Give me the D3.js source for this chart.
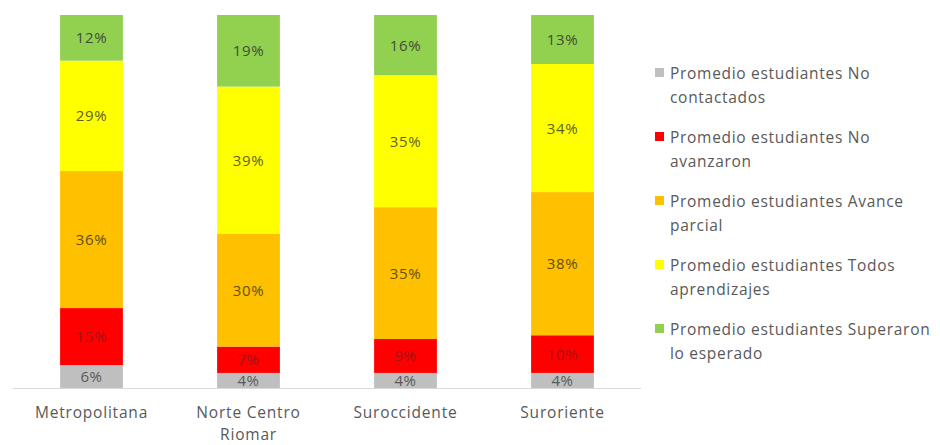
<!DOCTYPE html>
<html>
<head>
<meta charset="utf-8">
<script src="https://cdn.jsdelivr.net/npm/d3@7"></script>
<style>
  body { margin: 0; background: #fff; }
  text { font-family: "Open Sans", sans-serif; }
</style>
</head>
<body>
<div class="svg"></div>
<script>
const regiones = ["Metropolitana", "Norte Centro Riomar", "Suroccidente", "Suroriente"];
const series = [
  "Promedio estudiantes No contactados",
  "Promedio estudiantes No avanzaron",
  "Promedio estudiantes Avance parcial",
  "Promedio estudiantes Todos aprendizajes",
  "Promedio estudiantes Superaron lo esperado"
];
const noContactados = [6, 4, 4, 4];
const noAvanzaron = [15, 7, 9, 10];
const avanceParcial = [36, 30, 35, 38];
const todosAprendizajes = [29, 39, 35, 34];
const superaron = [12, 19, 16, 13];
const colores = ["#bfbfbf", "#ff0000", "#ffc000", "#ffff00", "#92d050"];
const colorTexto = ["#595959", "#a01515", "#5f4f10", "#5f5f25", "#3f4f35"];

const w = 940;
const h = 445;
const plot = {left: 13, right: 641, top: 15, bottom: 388};

let valores = [noContactados, noAvanzaron, avanceParcial, todosAprendizajes, superaron];
let data = regiones.map((r, i) => {
  let o = {region: r};
  series.forEach((s, j) => o[s] = valores[j][i]);
  return o;
});

let svg = d3.select(".svg").append("svg")
  .attr("width", w)
  .attr("height", h);

let x = d3.scaleBand()
  .domain(regiones)
  .range([plot.left, plot.right])
  .paddingInner(0.6)
  .paddingOuter(0.3);

let y = d3.scaleLinear()
  .domain([0, 1])
  .range([plot.bottom, plot.top]);

let stack = d3.stack().keys(series).offset(d3.stackOffsetExpand);
let capas = stack(data);

let grupos = svg.selectAll(".serie")
  .data(capas)
  .enter()
  .append("g")
  .attr("class", "serie")
  .attr("fill", (d, i) => colores[i]);

grupos.selectAll("rect")
  .data(d => d)
  .enter()
  .append("rect")
  .attr("x", d => x(d.data.region))
  .attr("y", d => y(d[1]))
  .attr("width", x.bandwidth())
  .attr("height", d => y(d[0]) - y(d[1]));

grupos.each(function(capa, i) {
  d3.select(this).selectAll("text")
    .data(capa)
    .enter()
    .append("text")
    .attr("x", d => x(d.data.region) + x.bandwidth() / 2)
    .attr("y", d => (y(d[0]) + y(d[1])) / 2 + 5.5)
    .attr("text-anchor", "middle")
    .attr("font-size", 15)
    .attr("letter-spacing", 0.6)
    .attr("fill", colorTexto[i])
    .text(d => d.data[capa.key] + "%");
});

// eje x
svg.append("line")
  .attr("x1", plot.left).attr("x2", plot.right)
  .attr("y1", plot.bottom + 0.5).attr("y2", plot.bottom + 0.5)
  .attr("stroke", "#d9d9d9");

let etiquetas = svg.append("g").attr("id", "x-axis");
regiones.forEach(r => {
  let lineas = r === "Norte Centro Riomar" ? ["Norte Centro", "Riomar"] : [r];
  let t = etiquetas.append("text")
    .attr("x", x(r) + x.bandwidth() / 2)
    .attr("y", 418)
    .attr("text-anchor", "middle")
    .attr("font-size", 15.5)
    .attr("letter-spacing", 0.8)
    .attr("fill", "#595959");
  lineas.forEach((l, k) => {
    t.append("tspan").attr("x", x(r) + x.bandwidth() / 2).attr("dy", k === 0 ? 0 : 22).text(l);
  });
});

// leyenda
let legend = svg.append("g").attr("id", "legend");
let textosLeyenda = [
  ["Promedio estudiantes No", "contactados"],
  ["Promedio estudiantes No", "avanzaron"],
  ["Promedio estudiantes Avance", "parcial"],
  ["Promedio estudiantes Todos", "aprendizajes"],
  ["Promedio estudiantes Superaron", "lo esperado"]
];
textosLeyenda.forEach((lineas, i) => {
  let yl = 73 + i * 64;
  legend.append("rect")
    .attr("x", 655).attr("y", yl - 5)
    .attr("width", 9).attr("height", 9)
    .attr("fill", colores[i]);
  let t = legend.append("text")
    .attr("x", 670).attr("y", yl + 5.5)
    .attr("font-size", 15.5)
    .attr("letter-spacing", 0.7)
    .attr("fill", "#595959");
  lineas.forEach((l, k) => {
    t.append("tspan").attr("x", 670).attr("dy", k === 0 ? 0 : 24).text(l);
  });
});
</script>
</body>
</html>
